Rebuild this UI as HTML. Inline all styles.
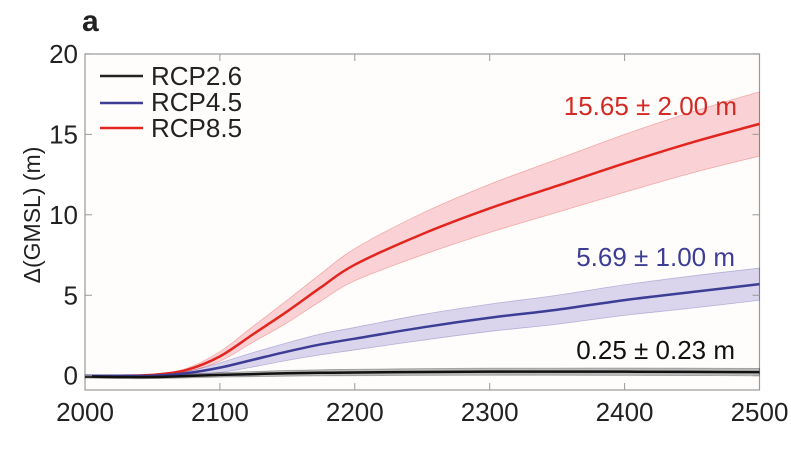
<!DOCTYPE html>
<html><head><meta charset="utf-8"><style>
body{margin:0;background:#fff}
svg text{font-family:"Liberation Sans",Arial,sans-serif}
</style></head><body>
<svg id="chart" width="791" height="448" viewBox="0 0 791 448" xmlns="http://www.w3.org/2000/svg">
<rect x="0" y="0" width="791" height="448" fill="#fff"/>
<text x="82" y="31" font-size="30" font-weight="bold" fill="#222">a</text>
<rect x="85" y="54" width="674.5" height="336" fill="#fefdfc" stroke="#999" stroke-width="1.2"/>
<g id="bands"></g><g id="lines"></g><g id="axes"></g>
<text transform="translate(40,215) rotate(-90)" text-anchor="middle" font-size="23" fill="#222">Δ(GMSL) (m)</text>
<g>
<line x1="100" y1="76" x2="143" y2="76" stroke="#222" stroke-width="2.5"/>
<text x="151" y="85" font-size="26" fill="#222">RCP2.6</text>
<line x1="100" y1="103" x2="143" y2="103" stroke="#3d3d96" stroke-width="2.5"/>
<text x="151" y="111" font-size="26" fill="#222">RCP4.5</text>
<line x1="100" y1="128" x2="143" y2="128" stroke="#e2261f" stroke-width="2.5"/>
<text x="151" y="137" font-size="26" fill="#222">RCP8.5</text>
</g>
<text x="737" y="115" text-anchor="end" font-size="26" fill="#d42a24">15.65 ± 2.00 m</text>
<text x="735" y="266" text-anchor="end" font-size="26" fill="#3d3d96">5.69 ± 1.00 m</text>
<text x="735" y="359" text-anchor="end" font-size="26" fill="#111">0.25 ± 0.23 m</text>
</svg>
<script>
const years=[2000,2025,2050,2075,2100,2125,2150,2175,2200,2250,2300,2350,2400,2450,2500];
const rcp85=[0,0,0.05,0.35,1.2,2.6,4.0,5.5,6.9,8.8,10.4,11.8,13.2,14.5,15.65];
const rcp85Unc=[0,0,0.03,0.1,0.3,0.5,0.7,0.85,1.0,1.3,1.5,1.65,1.8,1.9,2.0];
const rcp45=[0,0,0,0.15,0.5,1.0,1.5,1.95,2.3,3.0,3.6,4.1,4.7,5.2,5.69];
const rcp45Unc=[0,0,0.02,0.1,0.3,0.45,0.55,0.65,0.7,0.8,0.85,0.9,0.95,1.0,1.0];
const rcp26=[-0.05,-0.08,-0.08,-0.02,0.05,0.1,0.15,0.18,0.2,0.23,0.25,0.25,0.25,0.24,0.22];
const rcp26Unc=[0.1,0.1,0.1,0.12,0.14,0.16,0.18,0.19,0.2,0.21,0.22,0.22,0.23,0.23,0.23];
const xTicks=[2000,2100,2200,2300,2400,2500];
const yTicks=[0,5,10,15,20];
const X=v=>85+(v-2000)/500*674.5;
const Y=v=>375.7-v*16.09;
const NS="http://www.w3.org/2000/svg";
const bands=document.getElementById('bands'),lines=document.getElementById('lines'),axes=document.getElementById('axes');
function mk(t,a,p){const e=document.createElementNS(NS,t);for(const k in a)e.setAttribute(k,a[k]);p.appendChild(e);return e;}
function smooth(pts,move){
 let d=(move?'M':'L')+pts[0][0]+','+pts[0][1];
 for(let i=0;i<pts.length-1;i++){
  const p0=pts[Math.max(0,i-1)],p1=pts[i],p2=pts[i+1],p3=pts[Math.min(pts.length-1,i+2)];
  const c1=[p1[0]+(p2[0]-p0[0])/6,p1[1]+(p2[1]-p0[1])/6];
  const c2=[p2[0]-(p3[0]-p1[0])/6,p2[1]-(p3[1]-p1[1])/6];
  d+=' C'+c1[0]+','+c1[1]+' '+c2[0]+','+c2[1]+' '+p2[0]+','+p2[1];
 }
 return d;
}
function series(vals,unc,fill,stroke,name){
 const up=years.map((y,i)=>[X(y),Y(vals[i]+unc[i])]);
 const lo=years.map((y,i)=>[X(y),Y(vals[i]-unc[i])]).reverse();
 const b=mk('path',{d:smooth(up,true)+' '+smooth(lo,false)+' Z',fill:fill,stroke:stroke,'stroke-opacity':0.3,'stroke-width':0.8},bands);
 
 
 const l=mk('path',{d:smooth(years.map((y,i)=>[X(y),Y(vals[i])]),true),fill:'none',stroke:stroke,'stroke-width':2.5},lines);
 
 
}
series(rcp85,rcp85Unc,'rgba(240,80,90,0.25)','#e2261f','rcp85');
series(rcp45,rcp45Unc,'rgba(110,90,190,0.25)','#3d3d96','rcp45');
series(rcp26,rcp26Unc,'rgba(60,60,60,0.35)','#111','rcp26');
xTicks.forEach(t=>{
 mk('line',{x1:X(t),x2:X(t),y1:390,y2:383,stroke:'#999'},axes);
 mk('line',{x1:X(t),x2:X(t),y1:54,y2:61,stroke:'#999'},axes);
 const tx=mk('text',{x:X(t),y:421,'text-anchor':'middle','font-size':26,fill:'#222'},axes);
 tx.textContent=t;
 
 
});
yTicks.forEach(t=>{
 mk('line',{x1:85,x2:92,y1:Y(t),y2:Y(t),stroke:'#999'},axes);
 mk('line',{x1:759.5,x2:752.5,y1:Y(t),y2:Y(t),stroke:'#999'},axes);
 const tx=mk('text',{x:78,y:Y(t)+9,'text-anchor':'end','font-size':26,fill:'#222'},axes);
 tx.textContent=t;
 
 
});
</script>
</body></html>
